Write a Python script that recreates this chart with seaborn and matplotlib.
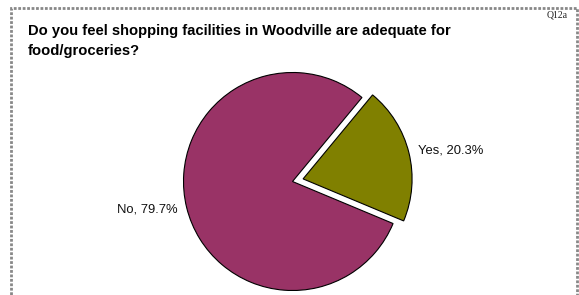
import matplotlib
matplotlib.use('Agg')
import matplotlib.pyplot as plt
import seaborn as sns
from matplotlib.patches import Rectangle

answers = ['No', 'Yes']
shares = [79.7, 20.3]
slice_colors = ['#993366', '#808000']
title = 'Do you feel shopping facilities in Woodville are adequate for\nfood/groceries?'
code = 'Q12a'

sns.set_theme(style='white')
plt.rcParams['font.family'] = ['Liberation Sans', 'DejaVu Sans']

W, H = 579, 295
fig = plt.figure(figsize=(W / 100, H / 100), dpi=100)
fig.patch.set_facecolor('white')

# pie centre ~ (292.5, 181.5) px, radius ~109 px
cx, cy, r = 292.5, 181.5, 109
half = 1.5 * r
ax = fig.add_axes([(cx - half) / W, (H - cy - half) / H, 2 * half / W, 2 * half / H])

labels = [f'{a}, {s}%' for a, s in zip(answers, shares)]
wedges, texts = ax.pie(shares, labels=labels, colors=slice_colors,
                       startangle=50.4, explode=[0, 0.1], labeldistance=1.09,
                       wedgeprops=dict(edgecolor='black', linewidth=0.8),
                       textprops=dict(fontsize=9.4, color='#111111'))
ax.set_xlim(-1.5, 1.5)
ax.set_ylim(-1.5, 1.5)
ax.set_aspect('auto')
ax.axis('off')

fig.text(28 / W, 1 - 41 / H, title, fontsize=10.6, fontweight='bold',
         ha='left', va='center', linespacing=1.5, color='black')
fig.text(568 / W, 1 - 15 / H, code, fontsize=7, family='Liberation Serif',
         ha='right', va='center', color='#222222')

fig.patches.append(Rectangle((11 / W, -0.1), (577 - 11) / W, 1.1 - 8 / H,
                             transform=fig.transFigure, fill=False,
                             edgecolor='#888888', linewidth=2,
                             linestyle=(0, (1, 0.6))))

fig.savefig('out.png', dpi=100)
